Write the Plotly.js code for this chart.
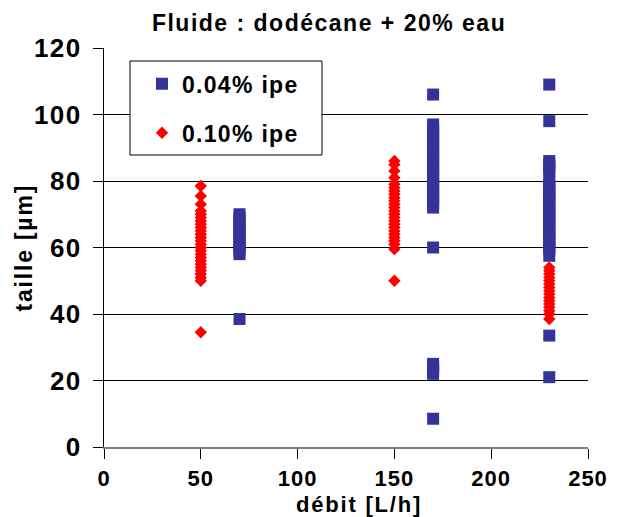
<!DOCTYPE html>
<html>
<head>
<meta charset="utf-8">
<script src="https://cdn.plot.ly/plotly-3.0.1.min.js"></script>
<style>
html,body{margin:0;padding:0;background:#fff;}
#chart{width:620px;height:517px;}
text.legendtext{letter-spacing:1.3px;}
text.gtitle{letter-spacing:1.5px;}
.annotation-text{letter-spacing:1.8px;}
.xtick text{letter-spacing:1px;}
.ytick text{letter-spacing:1.5px;}
</style>
</head>
<body>
<div id="chart"></div>
<script>
// Débit values (L/h) of each measurement column
const debitA = 50, debitB = 70, debitC = 150, debitD = 170, debitE = 230;

// Series 0.04% ipe (blue squares): taille [µm]
const ipe004_q70 = [38.5, 58, 59, 60, 61, 62, 63, 64, 65, 66, 67, 68, 69, 70];
const ipe004_q170 = [8.5, 22, 23, 24, 25, 60, 72, 73, 74, 75, 76, 77, 78, 79, 80, 81, 82, 83, 84, 85, 86, 87, 88, 89, 90, 91, 92, 93, 94, 95, 96, 97, 106];
const ipe004_q230 = [21, 33.5, 57.5, 59.5, 60, 61, 62, 63, 64, 65, 66, 67, 68, 69, 70, 71, 72, 73, 74, 75, 76, 77, 78, 79, 80, 83, 84, 85, 86, 98, 109];

// Series 0.10% ipe (red diamonds): taille [µm]
const ipe010_q50 = [34.5, 50, 51, 52, 53, 54, 55, 56, 57, 58, 59, 60, 61, 62, 63, 64, 65, 66, 67, 68, 69, 70, 71, 73, 75.5, 78.5];
const ipe010_q150 = [50, 59.5, 61, 62, 63, 64, 65, 66, 67, 68, 69, 70, 71, 72, 73, 74, 75, 76, 77, 78, 79, 81, 83, 85, 86];
const ipe010_q230 = [38.5, 40, 41, 42, 43, 44, 45, 46, 47, 48, 49, 50, 51, 52, 53, 54];

const xTicks = [0, 50, 100, 150, 200, 250];
const yTicks = [0, 20, 40, 60, 80, 100, 120];
const xTitle = 'débit [L/h]';
const yTitle = 'taille [µm]';

function col(debit, arr){ return arr.map(() => debit); }

const blueX = [].concat(col(debitB, ipe004_q70), col(debitD, ipe004_q170), col(debitE, ipe004_q230));
const blueY = [].concat(ipe004_q70, ipe004_q170, ipe004_q230);
const redX = [].concat(col(debitA, ipe010_q50), col(debitC, ipe010_q150), col(debitE, ipe010_q230));
const redY = [].concat(ipe010_q50, ipe010_q150, ipe010_q230);

const fam = 'Liberation Sans, Arial, sans-serif';
function f(size){ return {family: fam, size: size, weight: 'bold', color: '#000'}; }

const traces = [
  {x: blueX, y: blueY, type: 'scatter', mode: 'markers', name: '0.04% ipe', legendgroup: 'a',
   marker: {symbol: 'square', size: 12, color: '#333399'}},
  {x: redX, y: redY, type: 'scatter', mode: 'markers', name: '0.10% ipe', legendgroup: 'b',
   marker: {symbol: 'diamond', size: 9.5, color: '#FF0000'}}
];

const layout = {
  width: 620, height: 517,
  margin: {l: 104, r: 32, t: 48, b: 70, pad: 0},
  paper_bgcolor: '#fff', plot_bgcolor: '#fff',
  font: f(22),
  showlegend: true,
  title: {text: 'Fluide : dodécane + 20% eau', font: f(23),
          x: 0.465, xref: 'paper', xanchor: 'center', y: 0.955, yanchor: 'middle'},
  xaxis: {range: [0, 250], tickvals: xTicks, ticktext: xTicks.map(String), showgrid: false, zeroline: false,
          showline: true, linecolor: '#808080', linewidth: 1.5, ticks: 'outside', ticklen: 10, tickcolor: '#000',
          tickfont: f(22), ticklabelstandoff: 1,
          automargin: false, fixedrange: true},
  yaxis: {range: [0, 120], tickvals: yTicks, ticktext: yTicks.map(String), showgrid: true, gridcolor: '#000', gridwidth: 1,
          zeroline: false, showline: true, linecolor: '#000', linewidth: 1, ticks: 'outside', ticklen: 10, tickcolor: '#000',
          tickfont: f(26), ticklabelstandoff: 6,
          automargin: false, fixedrange: true},
  annotations: [
    {text: xTitle, xref: 'paper', yref: 'paper', x: 0.527, y: -0.1429, xanchor: 'center', yanchor: 'middle',
     showarrow: false, font: f(22), borderpad: 0},
    {text: yTitle, xref: 'paper', yref: 'paper', x: -0.1653, y: 0.5, xanchor: 'center', yanchor: 'middle',
     textangle: -90, showarrow: false, font: f(23)}
  ],
  shapes: [
    {type: 'rect', xref: 'paper', yref: 'paper', x0: 0.0537, x1: 0.4504, y0: 0.7318, y1: 0.9674,
     fillcolor: '#fff', line: {color: '#000', width: 1}, layer: 'above'}
  ],
  legend: {x: 0.0537, y: 0.964, xanchor: 'left', yanchor: 'top', bgcolor: 'rgba(0,0,0,0)', borderwidth: 0,
           font: f(23), traceorder: 'grouped', tracegroupgap: 16, indentation: 12}
};

Plotly.newPlot('chart', traces, layout, {displayModeBar: false, staticPlot: true});
</script>
</body>
</html>
